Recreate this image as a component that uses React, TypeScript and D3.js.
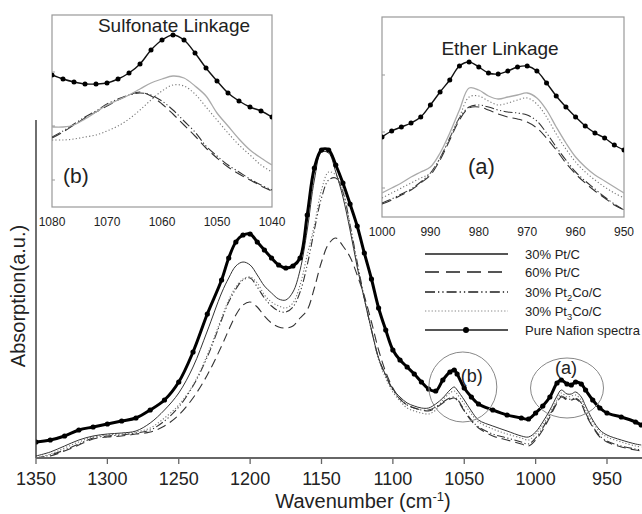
import React from 'react';
import * as d3 from 'd3';

// ---------- Main spectrum data (wavenumber, cm-1) ----------
const wavenumbers = [
  1350, 1340, 1330, 1320, 1310, 1300, 1290, 1280, 1270, 1260, 1250, 1240, 1230, 1220,
  1215, 1210, 1205, 1200, 1195, 1190, 1185, 1180, 1175, 1170, 1165, 1160, 1155, 1150, 1145, 1140,
  1135, 1130, 1125, 1120, 1115, 1110, 1105, 1100, 1095, 1090, 1085, 1080, 1075, 1070, 1065, 1060,
  1057, 1055, 1050, 1045, 1040, 1030, 1020, 1010, 1005, 1000, 995, 990, 985, 982, 978, 975, 972,
  968, 965, 960, 955, 950, 940, 930, 926,
];
const nafion = [
  16, 18, 22, 28, 31, 34, 37, 40, 48, 58, 76, 106, 144, 178,
  200, 216, 223, 224, 216, 208, 200, 193, 190, 192, 200, 243, 290, 308, 308, 293,
  275, 254, 232, 205, 179, 150, 128, 108, 98, 91, 84, 76, 69, 67, 78, 86,
  88, 84, 70, 61, 54, 48, 43, 40, 39, 45, 52, 61, 75, 78, 74, 73, 76,
  74, 68, 58, 50, 45, 41, 36, 33,
];
const ptc30 = [
  2, 6, 12, 18, 22, 24, 25, 27, 35, 48, 65, 91, 127, 165,
  180, 192, 196, 193, 183, 172, 165, 159, 158, 166, 188, 228, 278, 306, 305, 286,
  261, 228, 191, 159, 128, 100, 83, 69, 61, 55, 52, 50, 50, 54, 60, 68,
  71, 68, 58, 47, 38, 32, 27, 22, 21, 26, 36, 48, 62, 68, 64, 64, 66,
  61, 52, 38, 28, 23, 18, 14, 13,
];
const ptc60 = [
  0, 2, 7, 13, 19, 21, 22, 24, 26, 32, 43, 60, 83, 112,
  128, 143, 153, 156, 151, 142, 135, 131, 130, 132, 140, 148, 170, 196, 214, 220,
  212, 201, 183, 162, 136, 108, 86, 70, 59, 53, 50, 48, 47, 50, 55, 59,
  60, 58, 47, 37, 30, 22, 18, 14, 12, 18, 28, 41, 55, 61, 58, 58, 59,
  54, 44, 31, 21, 16, 11, 8, 7,
];
const pt2co = [
  0, 3, 8, 14, 20, 22, 23, 25, 28, 37, 51, 72, 101, 138,
  156, 169, 178, 180, 171, 160, 152, 147, 146, 151, 166, 193, 228, 260, 278, 280,
  266, 233, 196, 160, 128, 100, 82, 68, 59, 53, 50, 48, 48, 51, 56, 60,
  61, 59, 48, 38, 31, 24, 20, 16, 14, 20, 30, 43, 56, 62, 59, 59, 60,
  55, 45, 32, 22, 17, 12, 9, 8,
];
const pt3co = [
  0, 4, 10, 16, 21, 23, 24, 26, 30, 40, 53, 73, 103, 140,
  158, 171, 179, 181, 175, 163, 156, 152, 150, 155, 173, 203, 233, 268, 286, 283,
  268, 233, 193, 159, 128, 98, 80, 66, 57, 50, 47, 45, 44, 48, 58, 65,
  67, 64, 54, 44, 36, 29, 24, 20, 18, 24, 33, 45, 58, 65, 61, 62, 63,
  58, 48, 36, 26, 21, 16, 12, 11,
];
const mainTicks = [1350, 1300, 1250, 1200, 1150, 1100, 1050, 1000, 950];

// ---------- Inset (b): Sulfonate linkage ----------
const sulfWn = [1080, 1078, 1076, 1074, 1072, 1070, 1068, 1066, 1064, 1062, 1060, 1058, 1056, 1054, 1052, 1050, 1048, 1046, 1044, 1042, 1040];
const sulfNafion = [132, 128, 125, 123, 123, 124, 128, 134, 143, 157, 167, 172, 167, 154, 139, 126, 114, 106, 100, 96, 90];
const sulfPtc30 = [80, 80, 82, 88, 95, 102, 107, 112, 118, 124, 128, 131, 129, 121, 111, 94, 81, 68, 57, 49, 42];
const sulfPt3co = [67, 67, 68, 70, 72, 76, 81, 88, 97, 107, 116, 122, 121, 113, 100, 87, 74, 62, 52, 42, 35];
const sulfPt2co = [70, 76, 83, 90, 96, 103, 108, 112, 114, 112, 106, 97, 86, 75, 61, 51, 42, 35, 28, 22, 17];
const sulfPtc60 = [69, 75, 82, 89, 95, 101, 107, 112, 115, 111, 103, 93, 82, 71, 59, 49, 40, 33, 27, 21, 16];
const sulfTicks = [1080, 1070, 1060, 1050, 1040];
const sulfYTicks = [27, 81, 135];

// ---------- Inset (a): Ether linkage ----------
const etherWn = [1000, 998, 996, 994, 992, 990, 988, 986, 984, 982, 980, 978, 976, 974, 972, 970, 968, 966, 964, 962, 960, 958, 956, 954, 952, 950];
const etherNafion = [80, 86, 90, 94, 100, 112, 125, 137, 151, 155, 150, 144, 143, 146, 150, 151, 146, 134, 121, 110, 100, 91, 84, 79, 72, 67];
const etherPtc30 = [24, 29, 34, 40, 45, 50, 64, 84, 107, 129, 127, 121, 118, 120, 122, 124, 119, 107, 90, 74, 60, 50, 42, 36, 30, 24];
const etherPt3co = [19, 24, 29, 34, 39, 44, 59, 79, 100, 120, 121, 116, 112, 114, 117, 119, 113, 100, 83, 68, 55, 45, 37, 30, 24, 19];
const etherPt2co = [14, 18, 23, 28, 35, 44, 59, 79, 99, 110, 112, 110, 107, 105, 104, 102, 96, 84, 70, 57, 45, 36, 28, 20, 13, 7];
const etherPtc60 = [13, 17, 22, 27, 34, 42, 57, 77, 97, 109, 110, 107, 103, 100, 98, 95, 89, 79, 67, 54, 43, 34, 26, 19, 12, 7];
const etherTicks = [1000, 990, 980, 970, 960, 950];
const etherYTicks = [29, 85, 142];

// ---------- Legend / annotations ----------
const legendLabels = ['30% Pt/C', '60% Pt/C', '30% Pt2Co/C', '30% Pt3Co/C', 'Pure Nafion spectra'];
const annotations = [
  { label: '(b)', wn: 1051, v: 71 },
  { label: '(a)', wn: 978, v: 70 },
];

const FONT = "'Liberation Sans', Arial, Helvetica, sans-serif";

type Style = { stroke: string; width: number; dash?: string };
const mainStyles: Record<string, Style> = {
  ptc30: { stroke: '#333', width: 1 },
  ptc60: { stroke: '#333', width: 1.1, dash: '9,5' },
  pt2co: { stroke: '#333', width: 1.1, dash: '8,2.5,1.2,2.5,1.2,2.5' },
  pt3co: { stroke: '#777', width: 1.1, dash: '1.2,2' },
  nafion: { stroke: '#000', width: 3 },
};
const insetStyles: Record<string, Style> = {
  ptc30: { stroke: '#aaa', width: 1.3 },
  ptc60: { stroke: '#333', width: 1.1, dash: '10,5' },
  pt2co: { stroke: '#333', width: 1.1, dash: '9,2.5,1.2,2.5,1.2,2.5' },
  pt3co: { stroke: '#777', width: 1.1, dash: '1.2,2.2' },
  nafion: { stroke: '#111', width: 1.4 },
};

function lineGen(xs: number[], sx: d3.ScaleLinear<number, number>, sy: d3.ScaleLinear<number, number>) {
  return d3
    .line<number>()
    .x((_, i) => sx(xs[i]))
    .y((d) => sy(d))
    .curve(d3.curveCatmullRom.alpha(0.5));
}

function SubText({ label, x, y, size }: { label: string; x: number; y: number; size: number }) {
  const m = label.match(/^(.*Pt)(\d)(Co.*)$/);
  if (!m) return <text x={x} y={y} fontSize={size} fill="#222">{label}</text>;
  return (
    <text x={x} y={y} fontSize={size} fill="#222">
      {m[1]}
      <tspan dy={4} fontSize={size * 0.72}>{m[2]}</tspan>
      <tspan dy={-4}>{m[3]}</tspan>
    </text>
  );
}

export default function App() {
  const x = d3.scaleLinear().domain([1350, 950]).range([36, 607]);
  const y = d3.scaleLinear().domain([0, 340]).range([458, 118]);
  const mainLine = lineGen(wavenumbers, x, y);

  const sx = d3.scaleLinear().domain([1080, 1040]).range([52, 272]);
  const sy = d3.scaleLinear().domain([0, 192]).range([207, 15]);
  const sLine = lineGen(sulfWn, sx, sy);

  const ex = d3.scaleLinear().domain([1000, 950]).range([382, 624]);
  const ey = d3.scaleLinear().domain([0, 200]).range([217, 17]);
  const eLine = lineGen(etherWn, ex, ey);

  const mainSeries: [string, number[]][] = [
    ['ptc60', ptc60], ['pt2co', pt2co], ['pt3co', pt3co], ['ptc30', ptc30],
  ];
  const sulfSeries: [string, number[]][] = [
    ['ptc60', sulfPtc60], ['pt2co', sulfPt2co], ['pt3co', sulfPt3co], ['ptc30', sulfPtc30],
  ];
  const etherSeries: [string, number[]][] = [
    ['ptc60', etherPtc60], ['pt2co', etherPt2co], ['pt3co', etherPt3co], ['ptc30', etherPtc30],
  ];

  const legendKeys = ['ptc30', 'ptc60', 'pt2co', 'pt3co', 'nafion'];
  const legendRowY = [254, 272, 292, 311, 330];

  return (
    <svg
      width={642}
      height={514}
      style={{ position: 'absolute', left: 0, top: 0, background: '#fff' }}
      fontFamily={FONT}
    >
      <defs>
        <clipPath id="mainClip"><rect x={36} y={100} width={606} height={358} /></clipPath>
        <clipPath id="sClip"><rect x={52} y={15} width={220} height={192} /></clipPath>
        <clipPath id="eClip"><rect x={382} y={17} width={242} height={200} /></clipPath>
      </defs>
      <rect x={0} y={0} width={642} height={514} fill="#fff" />

      {/* Main series */}
      <g clipPath="url(#mainClip)">
        {mainSeries.map(([k, vals]) => (
          <path key={k} d={mainLine(vals) || ''} fill="none" stroke={mainStyles[k].stroke}
            strokeWidth={mainStyles[k].width} strokeDasharray={mainStyles[k].dash} />
        ))}
        <path d={mainLine(nafion) || ''} fill="none" stroke="#000" strokeWidth={mainStyles.nafion.width} />
        {nafion.map((v, i) => (
          <circle key={i} cx={x(wavenumbers[i])} cy={y(v)} r={2.6} fill="#000" />
        ))}
      </g>

      {/* Annotation ellipses */}
      <ellipse cx={x(annotations[0].wn)} cy={y(annotations[0].v)} rx={34} ry={35} fill="none" stroke="#888" strokeWidth={1} />
      <ellipse cx={x(annotations[1].wn)} cy={y(annotations[1].v)} rx={36.5} ry={30} fill="none" stroke="#888" strokeWidth={1} />
      <text x={x(annotations[0].wn) - 2} y={y(annotations[0].v) - 5} fontSize={18} fill="#222">{annotations[0].label}</text>
      <text x={x(annotations[1].wn) - 12} y={y(annotations[1].v) - 14} fontSize={18} fill="#222">{annotations[1].label}</text>

      {/* Axes */}
      <line x1={36} x2={36} y1={120} y2={458} stroke="#222" strokeWidth={1.3} />
      <line x1={36} x2={642} y1={458} y2={458} stroke="#666" strokeWidth={2} />
      {mainTicks.map((t) => (
        <g key={t}>
          <line x1={x(t)} x2={x(t)} y1={458} y2={464} stroke="#666" strokeWidth={1.3} />
          <text x={x(t)} y={485} fontSize={18} textAnchor="middle" fill="#222">{t}</text>
        </g>
      ))}
      <text x={363} y={508} fontSize={20} textAnchor="middle" fill="#222">
        Wavenumber (cm<tspan dy={-7} fontSize={13}>-1</tspan><tspan dy={7}>)</tspan>
      </text>
      <text transform="translate(25,296) rotate(-90)" fontSize={20} textAnchor="middle" fill="#222">Absorption(a.u.)</text>

      {/* Legend */}
      {legendKeys.map((k, i) => {
        const yy = legendRowY[i];
        const isNaf = k === 'nafion';
        return (
          <g key={k}>
            <line x1={425} x2={508} y1={yy} y2={yy}
              stroke={k === 'pt3co' ? '#888' : '#555'}
              strokeWidth={isNaf ? 2 : k === 'pt3co' ? 1 : 1.8}
              strokeDasharray={k === 'ptc60' ? '14,7' : k === 'pt2co' ? '10,3,1.3,3,1.3,3' : k === 'pt3co' ? '1.3,2' : undefined} />
            {isNaf && <circle cx={466} cy={yy} r={3} fill="#000" />}
            <SubText label={legendLabels[i]} x={525} y={yy + 5} size={13} />
          </g>
        );
      })}

      {/* Inset (b): Sulfonate */}
      <rect x={52} y={15} width={220} height={192} fill="#fff" stroke="#999" strokeWidth={1.2} />
      <g clipPath="url(#sClip)">
        {sulfSeries.map(([k, vals]) => (
          <path key={k} d={sLine(vals) || ''} fill="none" stroke={insetStyles[k].stroke}
            strokeWidth={insetStyles[k].width} strokeDasharray={insetStyles[k].dash} />
        ))}
        <path d={sLine(sulfNafion) || ''} fill="none" stroke="#111" strokeWidth={insetStyles.nafion.width} />
        {sulfNafion.map((v, i) => (
          <circle key={i} cx={sx(sulfWn[i])} cy={sy(v)} r={2.5} fill="#000" />
        ))}
      </g>
      {sulfYTicks.map((t) => (
        <line key={t} x1={52} x2={55} y1={sy(t)} y2={sy(t)} stroke="#999" strokeWidth={1} />
      ))}
      {sulfTicks.map((t) => (
        <text key={t} x={sx(t)} y={226} fontSize={12} textAnchor="middle" fill="#222">{t}</text>
      ))}
      <text x={174} y={32} fontSize={19} textAnchor="middle" fill="#222">Sulfonate Linkage</text>
      <text x={63} y={183} fontSize={21} fill="#222">(b)</text>

      {/* Inset (a): Ether */}
      <rect x={382} y={17} width={242} height={200} fill="#fff" stroke="#999" strokeWidth={1.2} />
      <g clipPath="url(#eClip)">
        {etherSeries.map(([k, vals]) => (
          <path key={k} d={eLine(vals) || ''} fill="none" stroke={insetStyles[k].stroke}
            strokeWidth={insetStyles[k].width} strokeDasharray={insetStyles[k].dash} />
        ))}
        <path d={eLine(etherNafion) || ''} fill="none" stroke="#111" strokeWidth={insetStyles.nafion.width} />
        {etherNafion.map((v, i) => (
          <circle key={i} cx={ex(etherWn[i])} cy={ey(v)} r={2.5} fill="#000" />
        ))}
      </g>
      {etherYTicks.map((t) => (
        <line key={t} x1={382} x2={385} y1={ey(t)} y2={ey(t)} stroke="#999" strokeWidth={1} />
      ))}
      {etherTicks.map((t) => (
        <text key={t} x={ex(t)} y={236} fontSize={12} textAnchor="middle" fill="#222">{t}</text>
      ))}
      <text x={500} y={55} fontSize={19} textAnchor="middle" fill="#222">Ether Linkage</text>
      <text x={468} y={174} fontSize={22} fill="#222">(a)</text>
    </svg>
  );
}
